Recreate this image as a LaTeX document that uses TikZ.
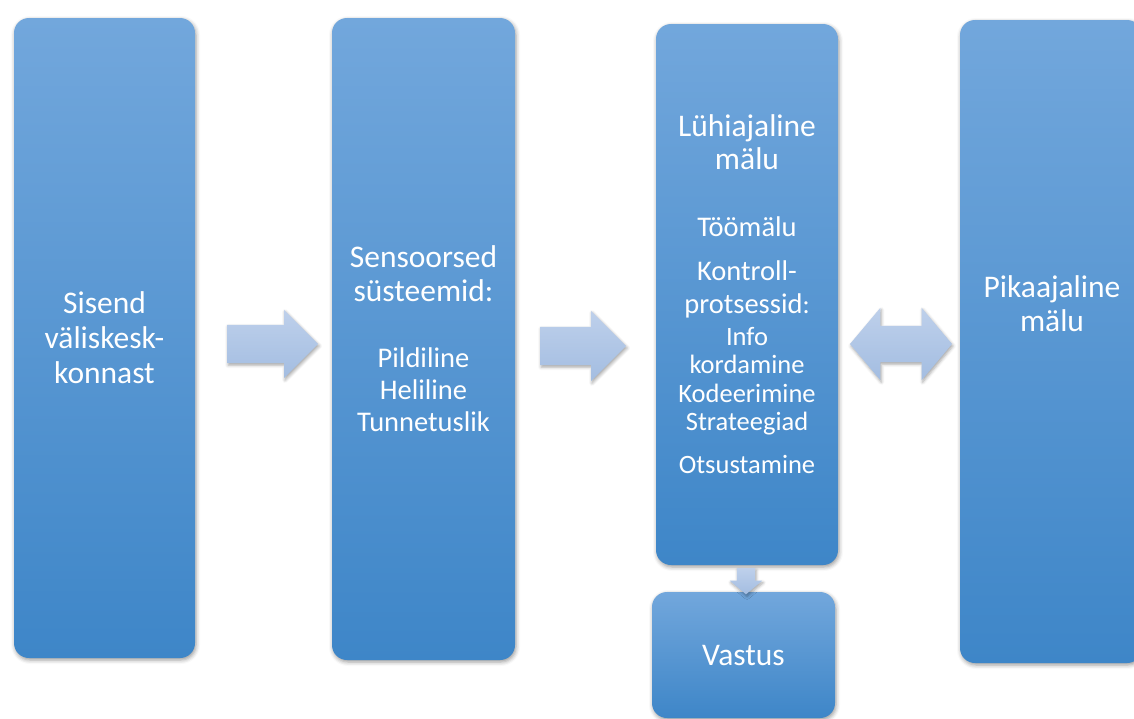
\documentclass[tikz,border=0pt]{standalone}
\usepackage{fontspec}
\setmainfont{Carlito}
\usetikzlibrary{shapes.arrows,shadows.blur}
\definecolor{boxtop}{RGB}{114,167,220}
\definecolor{boxbot}{RGB}{62,134,200}
\definecolor{arrtop}{RGB}{190,208,235}
\definecolor{arrbot}{RGB}{163,189,225}
\newcommand\fbig{\fontsize{31.5}{35}\selectfont}
\newcommand\fmid{\fontsize{28.5}{32}\selectfont}
\newcommand\fsml{\fontsize{26.5}{28.5}\selectfont}

\begin{document}
\begin{tikzpicture}[x=1pt,y=-1pt,
  box/.style={rounded corners=15pt,top color=boxtop,bottom color=boxbot,text=white,align=center,font=\fbig,inner sep=0pt,
    blur shadow={shadow xshift=1pt,shadow yshift=-2pt,shadow blur radius=4pt,shadow opacity=40}},
  arr/.style={single arrow,inner xsep=0pt,single arrow head indent=0pt,top color=arrtop,bottom color=arrbot,
    blur shadow={shadow xshift=1pt,shadow yshift=-2pt,shadow blur radius=3pt,shadow opacity=35}},
  darr/.style={double arrow,inner xsep=0pt,double arrow head indent=0pt,top color=arrtop,bottom color=arrbot,
    blur shadow={shadow xshift=1pt,shadow yshift=-2pt,shadow blur radius=3pt,shadow opacity=35}}]
  \useasboundingbox (0,0) rectangle (1134,718);
  \clip (0,0) rectangle (1134,718);
  % boxes
  \node[box,minimum width=181pt,minimum height=640pt] (inp) at (104.5,338) {Sisend\\väliskesk-\\konnast};
  \node[box,minimum width=183pt,minimum height=642pt] (sens) at (423.5,339)
    {Sensoorsed\\[-1pt]süsteemid:\\[31pt]{\fmid Pildiline}\\[-3pt]{\fmid Heliline}\\[-3pt]{\fmid Tunnetuslik}};
  \node[box,minimum width=182pt,minimum height=541pt] (stm) at (747,294.5)
    {Lühiajaline\\[-2pt]mälu\\[32pt]{\fmid Töömälu}\\[9pt]{\fmid Kontroll-}\\[-2pt]{\fmid protsessid}{\fsml :}\\[-3pt]{\fsml Info}\\[-7pt]{\fsml kordamine}\\[-6pt]{\fsml Kodeerimine}\\[-7pt]{\fsml Strateegiad}\\[8pt]{\fsml Otsustamine}};
  \node[box,minimum width=183pt,minimum height=126pt] (resp) at (743.5,655) {Vastus};
  \node[box,minimum width=182pt,minimum height=643pt] (ltm) at (1051,341.5) {};
  \node[text=white,align=center,font=\fbig] (ltmtxt) at (1052,304) {Pikaajaline\\[-1pt]mälu};
  % arrows
  \node[arr,anchor=tail,inner ysep=19pt,minimum height=91pt,single arrow head extend=15pt] (a1) at (227,344) {};
  \node[arr,anchor=tail,inner ysep=19pt,minimum height=86pt,single arrow head extend=16pt] (a2) at (540,346) {};
  \node[darr,inner ysep=18pt,minimum height=102pt,double arrow head extend=18pt,double arrow tip angle=100] (a3) at (901,344) {};
  \node[arr,anchor=tail,shape border rotate=270,inner sep=9pt,minimum height=24pt,single arrow head extend=7pt,single arrow tip angle=100] (a4) at (746,568) {};
\end{tikzpicture}
\end{document}
